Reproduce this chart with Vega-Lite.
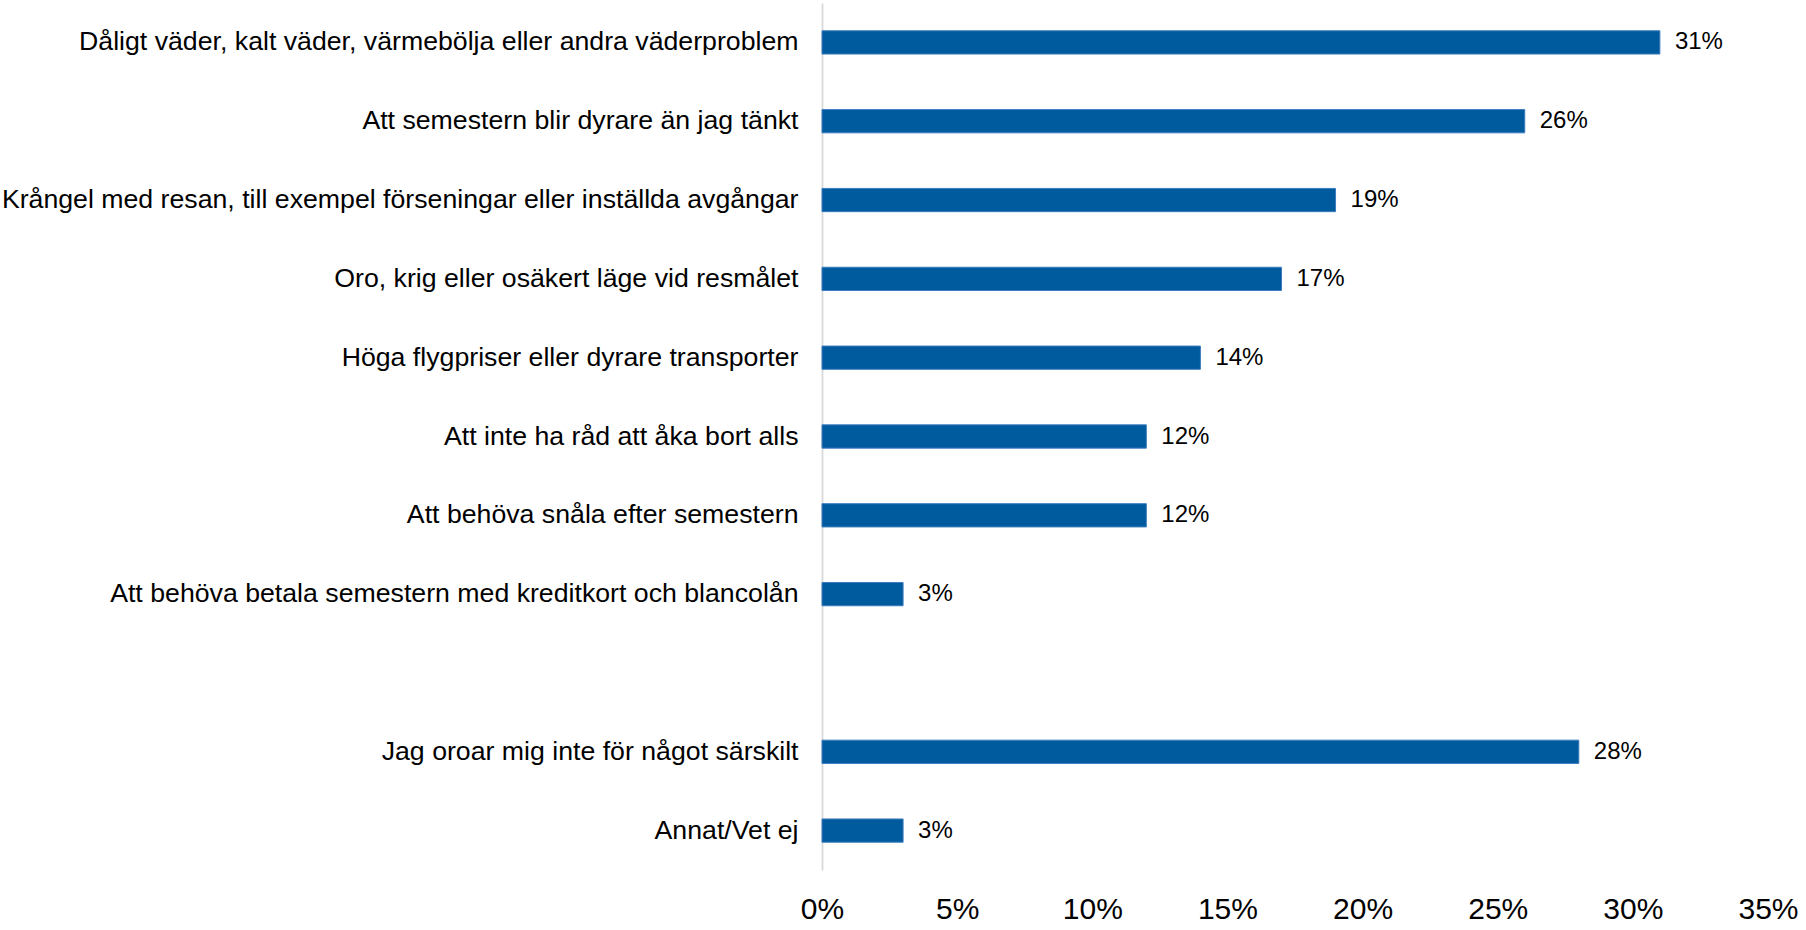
{
  "$schema": "https://vega.github.io/schema/vega-lite/v6.json",
  "autosize": {"type": "none"},
  "width": 946,
  "height": 867,
  "padding": {"left": 822, "top": 3, "right": 38, "bottom": 60},
  "background": "white",
  "config": {"view": {"stroke": null}, "font": "Liberation Sans"},
  "data": {
    "values": [
      {"kategori": "Dåligt väder, kalt väder, värmebölja eller andra väderproblem", "andel": 0.31},
      {"kategori": "Att semestern blir dyrare än jag tänkt", "andel": 0.26},
      {"kategori": "Krångel med resan, till exempel förseningar eller inställda avgångar", "andel": 0.19},
      {"kategori": "Oro, krig eller osäkert läge vid resmålet", "andel": 0.17},
      {"kategori": "Höga flygpriser eller dyrare transporter", "andel": 0.14},
      {"kategori": "Att inte ha råd att åka bort alls", "andel": 0.12},
      {"kategori": "Att behöva snåla efter semestern", "andel": 0.12},
      {"kategori": "Att behöva betala semestern med kreditkort och blancolån", "andel": 0.03},
      {"kategori": "Jag oroar mig inte för något särskilt", "andel": 0.28},
      {"kategori": "Annat/Vet ej", "andel": 0.03}
    ]
  },
  "encoding": {
    "y": {
      "field": "kategori",
      "type": "nominal",
      "sort": null,
      "scale": {
        "domain": [
          "Dåligt väder, kalt väder, värmebölja eller andra väderproblem",
          "Att semestern blir dyrare än jag tänkt",
          "Krångel med resan, till exempel förseningar eller inställda avgångar",
          "Oro, krig eller osäkert läge vid resmålet",
          "Höga flygpriser eller dyrare transporter",
          "Att inte ha råd att åka bort alls",
          "Att behöva snåla efter semestern",
          "Att behöva betala semestern med kreditkort och blancolån",
          " ",
          "Jag oroar mig inte för något särskilt",
          "Annat/Vet ej"
        ],
        "paddingInner": 0.705,
        "paddingOuter": 0.3525
      },
      "axis": {
        "title": null,
        "ticks": false,
        "labelPadding": 24,
        "labelFontSize": 26.7,
        "labelColor": "#000000",
        "labelFont": "Liberation Sans",
        "labelLimit": 0,
        "domainColor": "#d9d9d9",
        "domainWidth": 1.8,
        "grid": false
      }
    },
    "x": {
      "field": "andel",
      "type": "quantitative",
      "scale": {"domain": [0, 0.35], "nice": false},
      "axis": {
        "title": null,
        "values": [0, 0.05, 0.1, 0.15, 0.2, 0.25, 0.3, 0.35],
        "format": ".0%",
        "ticks": false,
        "domain": false,
        "grid": false,
        "labelFontSize": 30,
        "labelColor": "#000000",
        "labelFont": "Liberation Sans",
        "labelPadding": 24,
        "labelFlush": false,
        "labelOverlap": false
      }
    }
  },
  "layer": [
    {
      "mark": {"type": "bar", "color": "#005a9e", "stroke": "#3b7dbd", "strokeWidth": 1}
    },
    {
      "mark": {"type": "text", "align": "left", "baseline": "middle", "dx": 15, "fontSize": 24, "color": "#000000", "font": "Liberation Sans"},
      "encoding": {"text": {"field": "andel", "type": "quantitative", "format": ".0%"}}
    }
  ]
}
